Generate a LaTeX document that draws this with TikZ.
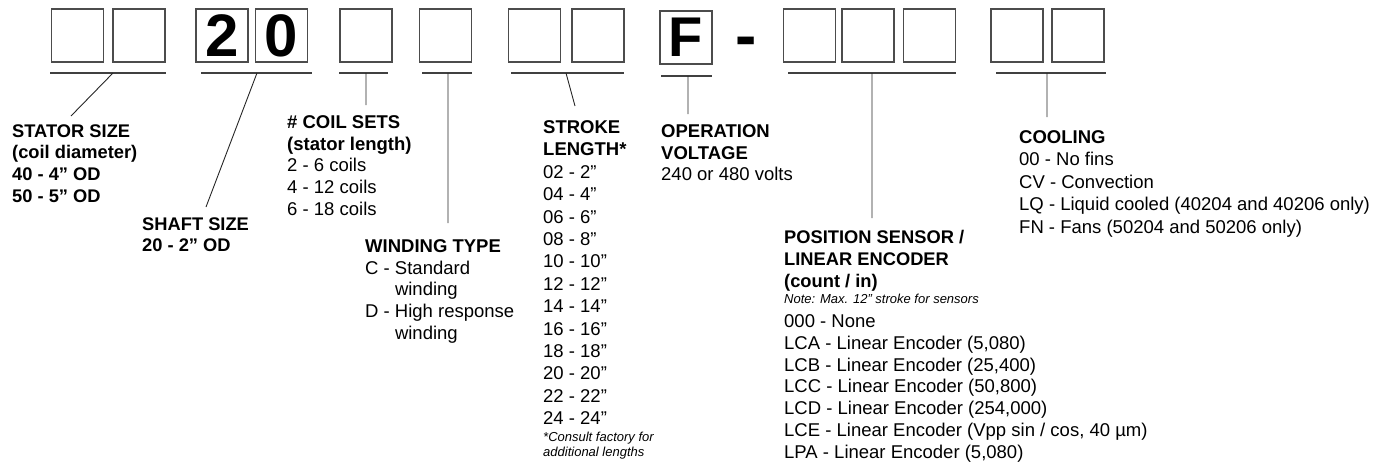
\documentclass[tikz,border=0pt]{standalone}
\usepackage{fontspec}
\setmainfont{Liberation Sans}
\usepackage{tikz}

\tikzset{
  digit/.style={draw=black!70, line width=1.1pt, minimum width=52pt, minimum height=53pt, inner sep=0pt, font=\fontsize{60}{60}\selectfont\bfseries},
  uline/.style={draw=black!75, line width=1.3pt},
  lead/.style={draw=black!85, line width=0.9pt},
  lbl/.style={anchor=north west, inner sep=0pt, align=left, font=\fontsize{18.5}{21.7}\selectfont},
  note/.style={anchor=north west, inner sep=0pt, align=left, font=\fontsize{13}{15}\selectfont\itshape}
}

\begin{document}
\begin{tikzpicture}[x=1pt,y=-1pt]
    \useasboundingbox (0,0) rectangle (1390,466);
    % code boxes
    \node[digit] (st1) at (77.5,35.5) {};
    \node[digit] (st2) at (139,35.5) {};
    \node[digit] (sh1) at (222,35.5) {2};
    \node[digit] (sh2) at (281.5,35.5) {0};
    \node[digit] (cs) at (366,35.5) {};
    \node[digit] (wt) at (445.5,35.5) {};
    \node[digit] (sl1) at (534.5,35.5) {};
    \node[digit] (sl2) at (598,35.5) {};
    \node[digit,font=\fontsize{56}{56}\selectfont\bfseries] (ov) at (686,37.5) {F};
    \node[inner sep=0pt,anchor=base,font=\fontsize{64}{64}\selectfont\bfseries] (dash) at (746.5,57.5) {-};
    \node[digit] (ps1) at (809.5,35.5) {};
    \node[digit] (ps2) at (868,35.5) {};
    \node[digit] (ps3) at (929.5,35.5) {};
    \node[digit] (co1) at (1017,35.5) {};
    \node[digit] (co2) at (1078,35.5) {};
    % underlines
    \draw[uline] (50,73) -- (166,73);
    \draw[uline] (201,73) -- (312,73);
    \draw[uline] (339,73) -- (388,73);
    \draw[uline] (422,73) -- (472,73);
    \draw[uline] (511,73) -- (624,73);
    \draw[uline] (661,76) -- (712,76);
    \draw[uline] (788,73) -- (956,73);
    \draw[uline] (996,73) -- (1106,73);
    % labels
    \node[lbl,font=\fontsize{18.3}{21.7}\selectfont\bfseries] (stator) at (12,124.3) {STATOR SIZE\\(coil diameter)\\40 - 4” OD\\50 - 5” OD};
    \node[lbl,font=\fontsize{18.3}{21.7}\selectfont\bfseries] (shaft) at (142,217.3) {SHAFT SIZE\\20 - 2” OD};
    \node[lbl] (coils) at (287,115.3) {\textbf{\# COIL SETS}\\\textbf{(stator length)}\\2 - 6 coils\\4 - 12 coils\\6 - 18 coils};
    \node[lbl] (winding) at (365,239.3) {\textbf{WINDING TYPE}\\C - Standard\\\hphantom{C - }winding\\D - High response\\\hphantom{D - }winding};
    \node[lbl,font=\fontsize{18.5}{22.4}\selectfont] (stroke) at (543,120.3) {\textbf{STROKE}\\\textbf{LENGTH*}\\02 - 2”\\04 - 4”\\06 - 6”\\08 - 8”\\10 - 10”\\12 - 12”\\14 - 14”\\16 - 16”\\18 - 18”\\20 - 20”\\22 - 22”\\24 - 24”};
    \node[note] (strokenote) at (543,432.3) {*Consult factory for\\additional lengths};
    \node[lbl] (voltage) at (661,124.3) {\textbf{OPERATION}\\\textbf{VOLTAGE}\\240 or 480 volts};
    \node[lbl,font=\fontsize{18.3}{22}\selectfont\bfseries] (sensor) at (784,230.3) {POSITION SENSOR /\\LINEAR ENCODER\\(count / in)};
    \node[note] (sensornote) at (784,294.3) {Note: Max. 12\char34\ stroke for sensors};
    \node[lbl,font=\fontsize{18.5}{21.8}\selectfont] (sensorlist) at (784,314.3) {000 - None\\LCA - Linear Encoder (5,080)\\LCB - Linear Encoder (25,400)\\LCC - Linear Encoder (50,800)\\LCD - Linear Encoder (254,000)\\LCE - Linear Encoder (Vpp sin / cos, 40 µm)\\LPA - Linear Encoder (5,080)};
    \node[lbl,font=\fontsize{18.5}{22.5}\selectfont] (cooling) at (1019,130.3) {\textbf{COOLING}\\00 - No fins\\CV - Convection\\LQ - Liquid cooled (40204 and 40206 only)\\FN - Fans (50204 and 50206 only)};
    % leaders
    \coordinate (st-a) at (113,73);   \coordinate (st-b) at (71,116);
    \coordinate (sh-a) at (257,73);   \coordinate (sh-b) at (206,207);
    \coordinate (cs-a) at (366,73);   \coordinate (cs-b) at (366,105);
    \coordinate (wt-a) at (448,73);   \coordinate (wt-b) at (448,223);
    \coordinate (sl-a) at (566,73);   \coordinate (sl-b) at (575,106);
    \coordinate (ov-a) at (688,76);   \coordinate (ov-b) at (688,114);
    \coordinate (ps-a) at (872,73);   \coordinate (ps-b) at (872,218);
    \coordinate (co-a) at (1047,73);  \coordinate (co-b) at (1047,117);
    \draw[lead] (st-a) -- (st-b) (sh-a) -- (sh-b) (cs-a) -- (cs-b) (wt-a) -- (wt-b);
    \draw[lead] (sl-a) -- (sl-b) (ov-a) -- (ov-b) (ps-a) -- (ps-b) (co-a) -- (co-b);
\end{tikzpicture}
\end{document}
